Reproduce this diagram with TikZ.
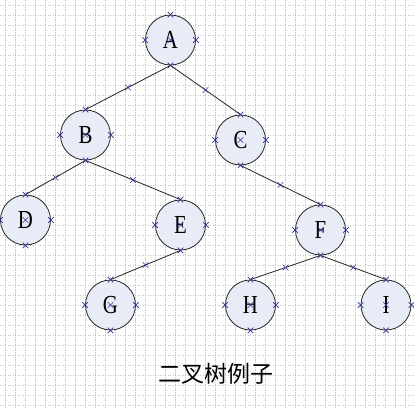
\documentclass[tikz,border=0pt]{standalone}
\usepackage{fontspec}
\setmainfont{Liberation Serif}
\newfontfamily\cjk{Noto Sans CJK SC}
\usetikzlibrary{shapes.misc}
\definecolor{gridc}{RGB}{195,195,195}
\definecolor{nodefill}{RGB}{232,236,246}
\definecolor{mkc}{RGB}{50,50,150}
\newcommand{\lbl}[1]{\scalebox{0.8}[1]{#1}}
\tikzset{
  x=1pt, y=1pt,
  gridline/.style={draw=gridc, line width=0.5pt, dash pattern=on 1.2pt off 1.3pt},
  tnode/.style={circle, draw=black!85, line width=0.8pt, fill=nodefill, minimum size=50pt, inner sep=0pt, font=\fontsize{26}{26}\selectfont},
  xmk/.style={cross out, draw=mkc, line width=0.6pt, minimum size=5pt, inner sep=0pt},
  edge/.style={draw=black!85, line width=0.8pt},
}
\begin{document}
\begin{tikzpicture}
\useasboundingbox (0,0) rectangle (414,408);
\fill[white] (0,0) rectangle (414,408);
\begin{scope}[shift={(5,3)}]
\draw[gridline, step=10] (-5,-3) grid (409,405);
\end{scope}
\node[tnode] (A) at (170.5,368) {\lbl{A}};
\node[tnode] (B) at (85.5,273) {\lbl{B}};
\node[tnode] (C) at (240.5,268) {\lbl{C}};
\node[tnode] (D) at (25.5,188) {\lbl{D}};
\node[tnode] (E) at (180.5,183) {\lbl{E}};
\node[tnode] (F) at (320.5,178) {\lbl{F}};
\node[tnode] (G) at (110.5,103) {\lbl{G}};
\node[tnode] (H) at (250.5,103) {\lbl{H}};
\node[tnode] (I) at (386,103) {\lbl{I}};
\draw[edge] (A.south) -- node[xmk]{} (B.north);
\draw[edge] (A.south) -- node[xmk]{} (C.north);
\draw[edge] (B.south) -- node[xmk]{} (D.north);
\draw[edge] (B.south) -- node[xmk]{} (E.north);
\draw[edge] (E.south) -- node[xmk]{} (G.north);
\draw[edge] (C.south) -- node[xmk]{} (F.north);
\draw[edge] (F.south) -- node[xmk]{} (H.north);
\draw[edge] (F.south) -- node[xmk]{} (I.north);
\foreach \n in {A,B,C,D,E,F,G,H,I}{
  \foreach \a in {north,south,east,west,center}{
    \node[xmk] at (\n.\a) {};
  }
}
\node (title) at (215.5,34) {\cjk\fontsize{23}{23}\selectfont 二叉树例子};
\end{tikzpicture}
\end{document}
